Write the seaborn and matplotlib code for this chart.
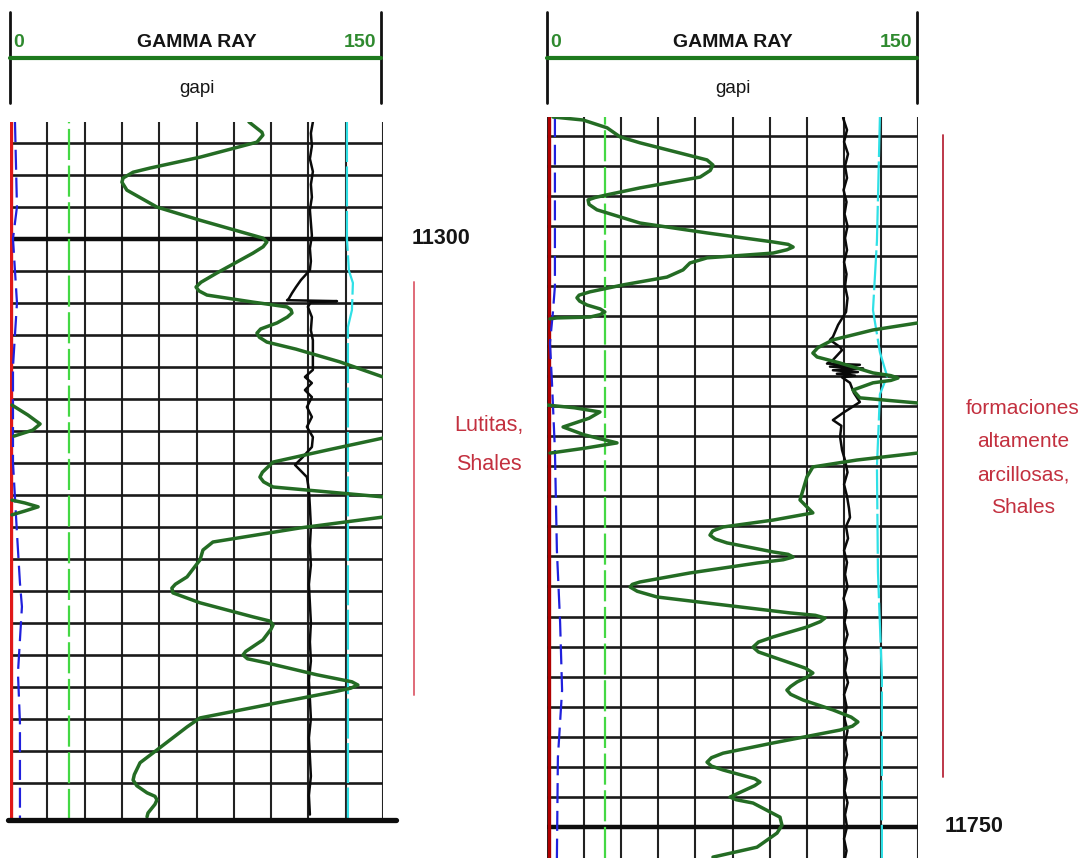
import pandas as pd
import seaborn as sns
import matplotlib.pyplot as plt

# ---------------- left log : 11263 - 11482 ft ----------------
left_top, left_bottom = 11263.5, 11481.7
left_grid = list(range(11270, 11471, 10))
left_mark = 11300

# gamma ray, split where the trace leaves the 0-150 track (wrap-around pieces)
gr_left_depth = [
    [11263.5, 11266.7, 11267.6, 11269.8, 11274.5, 11277.9, 11279.2, 11281.0, 11282.3, 11284.8,
     11290.1, 11294.2, 11299.8, 11301.0, 11302.5, 11304.5, 11310.7, 11313.6, 11315.1, 11316.3,
     11317.6, 11319.8, 11321.3, 11322.2, 11323.2, 11324.5, 11326.3, 11328.2, 11329.5, 11330.8,
     11332.3, 11334.5, 11338.5, 11343.2],
    [11352.0, 11355.1, 11357.9, 11359.8, 11361.7],
    [11362.3, 11366.0, 11369.8, 11373.0, 11374.5, 11376.0, 11377.6, 11380.7],
    [11381.7, 11382.6, 11383.8, 11385.1, 11386.3],
    [11387.0, 11390.4, 11394.8, 11397.3, 11400.4, 11405.7, 11408.0, 11409.2, 11410.7, 11413.8,
     11418.2, 11419.5, 11420.7, 11422.0, 11425.4, 11429.0, 11430.1, 11431.3, 11432.6, 11436.3,
     11438.5, 11439.5, 11440.5, 11441.7, 11445.7, 11449.8, 11452.6, 11459.8, 11463.8, 11467.5,
     11469.2, 11471.0, 11473.2, 11474.3, 11475.4, 11476.8, 11479.5, 11480.7],
]
gr_left_value = [
    [96.1, 101.3, 101.7, 99.3, 76.4, 56.3, 49.5, 45.5, 45.0, 47.0,
     59.1, 76.4, 101.7, 103.3, 101.8, 97.7, 83.2, 76.8, 74.8, 76.0,
     79.2, 97.7, 111.4, 113.0, 113.4, 111.5, 107.4, 100.8, 99.3, 100.3,
     103.3, 115.0, 132.7, 150.0],
    [0.8, 7.2, 12.1, 9.2, 1.6],
    [150.0, 127.9, 105.8, 101.5, 100.5, 102.0, 105.8, 150.0],
    [0.8, 6.0, 11.3, 6.0, 0.8],
    [150.0, 116.6, 81.6, 77.6, 76.4, 71.2, 66.5, 65.1, 65.5, 76.4,
     97.7, 104.5, 105.8, 105.0, 101.7, 94.8, 93.7, 95.5, 103.3, 123.4,
     137.5, 139.9, 137.0, 129.9, 103.3, 76.4, 71.2, 59.1, 52.3, 50.0,
     49.5, 51.0, 55.1, 58.3, 59.1, 58.3, 55.5, 55.1],
]

black_left_depth = [11263.5, 11267, 11271, 11275, 11279, 11283, 11287, 11291, 11295, 11299,
                    11303, 11307, 11309.8, 11312.9, 11315.1, 11317.0, 11318.9, 11319.2, 11319.5, 11319.8,
                    11321.3, 11324.5, 11328.6, 11331.7, 11334.8, 11341.0, 11343.2, 11345.1, 11347.3, 11349.5,
                    11352.6, 11355.7, 11358.8, 11362.0, 11365.1, 11368.2, 11370.7, 11374.5, 11378.5, 11383.8,
                    11390, 11396, 11402, 11408, 11414, 11420, 11426, 11432, 11438, 11444,
                    11450, 11456, 11462, 11468, 11474, 11480]
black_left_value = [121.8, 121.0, 121.4, 120.6, 121.8, 121.0, 121.4, 120.6, 121.0, 121.4,
                    120.6, 121.0, 120.6, 117.0, 115.0, 113.4, 112.0, 111.4, 131.5, 121.0,
                    119.8, 121.4, 121.0, 121.8, 121.8, 121.8, 118.6, 121.4, 118.6, 121.4,
                    119.4, 121.4, 119.4, 121.8, 121.4, 117.8, 114.6, 119.4, 120.2, 120.6,
                    121.0, 120.6, 121.0, 120.2, 120.6, 121.0, 120.6, 121.0, 120.2, 120.6,
                    121.0, 120.2, 120.6, 121.0, 120.2, 120.6]

cyan_left_depth = [11263.5, 11300, 11310, 11313.8, 11322.3, 11327.6, 11400, 11481.7]
cyan_left_value = [135.5, 135.5, 136.3, 137.9, 137.5, 135.9, 135.9, 135.9]

blue_left_depth = [11263.5, 11290, 11300, 11320, 11340, 11370, 11392, 11407.6, 11415, 11435.7, 11451.3, 11481.7]
blue_left_value = [2.0, 2.8, 1.2, 2.8, 1.2, 1.2, 2.8, 4.0, 4.8, 3.2, 4.0, 4.0]

green_left = 23.6
red_left = 0.6

# ---------------- right log : 11514 - 11760 ft ----------------
right_top, right_bottom = 11513.7, 11760.4
right_grid = list(range(11520, 11751, 10))
right_mark = 11750

gr_right_depth = [
    [11513.7, 11514.7, 11517.3, 11520.3, 11522.3, 11525.7, 11528.0, 11529.7, 11531.5, 11533.7,
     11537.3, 11539.6, 11540.5, 11541.3, 11542.8, 11544.6, 11549.0, 11552.3, 11555.3, 11556.1,
     11557.0, 11557.9, 11559.0, 11560.6, 11562.3, 11564.6, 11567.0, 11569.6, 11571.9, 11573.0,
     11573.9, 11575.0, 11576.3, 11577.6, 11578.6, 11579.5, 11580.3, 11580.6, 11580.9],
    [11582.3, 11584.6, 11587.9, 11590.5, 11592.3, 11593.6, 11595.6, 11598.9, 11599.8, 11600.6,
     11601.4, 11602.2, 11604.6, 11607.2, 11608.9],
    [11609.6, 11610.5, 11611.9, 11614.0, 11616.9, 11619.5, 11622.2, 11624.0, 11625.6],
    [11625.6, 11627.9, 11630.2, 11633.5, 11637.9, 11641.2, 11645.5, 11647.9, 11650.2, 11651.5,
     11652.9, 11654.2, 11655.5, 11658.5, 11659.3, 11660.2, 11661.1, 11662.2, 11665.5, 11668.5,
     11669.3, 11670.2, 11671.6, 11673.5, 11675.5, 11678.8, 11679.6, 11680.5, 11681.7, 11683.5,
     11686.8, 11688.5, 11690.2, 11691.8, 11693.5, 11697.2, 11698.8, 11700.2, 11701.8, 11703.3,
     11704.5, 11705.9, 11707.8, 11711.1, 11713.5, 11715.1, 11716.5, 11717.8, 11722.1, 11725.5,
     11727.0, 11728.5, 11729.8, 11731.1, 11734.0, 11735.1, 11736.3, 11740.1, 11741.0, 11742.1,
     11746.8, 11749.5, 11752.1, 11756.8, 11760.1],
]
gr_right_value = [
    [2.4, 14.6, 24.3, 29.5, 37.6, 53.8, 64.7, 67.1, 66.0, 61.9,
     37.6, 24.3, 19.5, 16.6, 17.0, 20.2, 37.6, 64.7, 91.4, 97.5,
     99.5, 97.0, 91.4, 64.7, 57.8, 55.0, 48.5, 30.7, 17.4, 13.0,
     12.1, 13.2, 16.2, 21.5, 23.4, 21.5, 17.4, 4.0, 1.2],
    [149.6, 131.8, 115.6, 109.5, 107.5, 109.2, 118.5, 131.8, 139.0, 141.9,
     139.0, 131.8, 123.7, 126.5, 149.6],
    [0.0, 11.0, 21.4, 17.0, 6.5, 15.0, 28.3, 15.0, 1.2],
    [149.6, 125.3, 107.5, 105.1, 103.5, 102.3, 107.5, 91.4, 71.2, 67.0,
     65.9, 68.0, 72.8, 91.4, 97.5, 99.5, 95.5, 84.9, 57.8, 37.6,
     34.5, 33.6, 36.5, 44.5, 64.7, 98.2, 108.5, 112.4, 110.5, 105.1,
     91.4, 85.5, 83.3, 85.5, 91.4, 104.5, 107.5, 105.0, 101.1, 98.5,
     97.0, 98.5, 103.5, 115.6, 123.0, 125.7, 123.5, 118.5, 91.4, 71.2,
     66.5, 64.7, 66.5, 71.2, 84.0, 86.1, 84.0, 74.0, 76.5, 83.3,
     94.2, 95.0, 93.0, 84.9, 67.1],
]

black_right_depth = [11514, 11518, 11522, 11526, 11530, 11534, 11538, 11542, 11546, 11550,
                     11554, 11558, 11562, 11566, 11570, 11574, 11578.6, 11582.9, 11586.9, 11587.9,
                     11590.3, 11591.3, 11594.6, 11595.8, 11596.2, 11596.8, 11597.4, 11598.0, 11598.6, 11599.2,
                     11599.8, 11600.4, 11602.2, 11605.6, 11608.6, 11612.2, 11614.6, 11616.5, 11620.2, 11624.6,
                     11628, 11632, 11636, 11640, 11644, 11647, 11650, 11654, 11658, 11662,
                     11666, 11670, 11674, 11678, 11682, 11686, 11690, 11694, 11698, 11702,
                     11706, 11710, 11714, 11718, 11722, 11726, 11730, 11734, 11738, 11742,
                     11746, 11750, 11754, 11758, 11760.4]
black_right_value = [119.7, 121.3, 120.1, 121.7, 120.5, 121.3, 119.9, 121.1, 120.3, 121.5,
                     120.5, 121.3, 120.1, 121.1, 120.5, 121.5, 120.9, 117.7, 115.6, 114.4,
                     118.5, 119.3, 115.6, 113.2, 126.5, 114.4, 127.8, 115.6, 125.7, 117.2,
                     124.5, 119.3, 122.5, 124.1, 126.5, 119.7, 115.6, 119.0, 118.5, 119.3,
                     120.5, 121.5, 120.1, 121.3, 122.1, 122.5, 120.9, 121.7, 120.1, 121.3,
                     120.5, 121.5, 119.9, 121.1, 120.3, 121.5, 120.1, 121.3, 120.5, 121.7,
                     120.1, 121.1, 120.3, 121.5, 120.5, 121.3, 120.1, 121.1, 120.3, 121.5,
                     120.5, 121.3, 120.1, 121.1, 120.5]

cyan_right_depth = [11513.7, 11555, 11578, 11592, 11600, 11606, 11630, 11665, 11700, 11760.4]
cyan_right_value = [134.6, 133.4, 131.8, 134.6, 137.5, 134.6, 133.4, 133.8, 135.4, 135.4]

blue_right_depth = [11513.7, 11570, 11578.6, 11588.9, 11602, 11624.6, 11658, 11682, 11704.5, 11727, 11760.4]
blue_right_value = [3.2, 3.2, 2.4, 1.2, 2.0, 3.2, 4.0, 5.3, 6.1, 4.4, 4.0]

green_right = 23.4
red_right = 0.8

# interpretation marks
shale_left = (11313.5, 11442.6)
shale_right = (11519.7, 11733.4)
shale_left_text = "Lutitas,\nShales"
shale_right_text = "formaciones\naltamente\narcillosas,\nShales"

GR_GREEN = "#246c24"
TEXT_RED = "#c3303f"

sns.set_theme(style="white")
plt.rcParams["font.family"] = ["Liberation Sans", "DejaVu Sans"]

fig = plt.figure(figsize=(10.83, 8.58), dpi=100)


def px_box(x0, y0, x1, y1):
    return [x0 / 1083, 1 - y1 / 858, (x1 - x0) / 1083, (y1 - y0) / 858]


def header(ax):
    ax.set_xlim(0, 150)
    ax.set_ylim(0, 1)
    ax.axis("off")
    ax.axvline(0, color="#111111", lw=2.0, clip_on=False)
    ax.axvline(150, color="#111111", lw=2.0, clip_on=False)
    ax.axhline(0.495, color="#1e7a1e", lw=3.0, clip_on=False)
    ax.text(1.2, 0.615, "0", color="#2f8a2f", fontsize=14, fontweight="bold", ha="left", va="baseline")
    ax.text(148, 0.615, "150", color="#2f8a2f", fontsize=14, fontweight="bold", ha="right", va="baseline")
    ax.text(75.5, 0.615, "GAMMA RAY", color="#151515", fontsize=14, fontweight="bold", ha="center",
            va="baseline")
    ax.text(75.5, 0.11, "gapi", color="#151515", fontsize=13.5, ha="center", va="baseline")


def track(ax, top, bottom, grid, mark, red_x, red_c, blue_d, blue_v, green_x,
          cyan_d, cyan_v, black_d, black_v, gr_d, gr_v):
    ax.set_xlim(0, 150)
    ax.set_ylim(bottom, top)
    ax.set_xticks(range(0, 151, 15))
    ax.set_yticks(grid)
    ax.xaxis.grid(True, color="#222222", lw=1.5)
    ax.yaxis.grid(True, color="#1a1a1a", lw=1.9)
    ax.tick_params(length=0, labelbottom=False, labelleft=False)
    for sp in ax.spines.values():
        sp.set_visible(False)
    ax.axhline(mark, color="#0d0d0d", lw=3.2, zorder=1)

    ax.axvline(red_x, color=red_c, lw=2.4)
    sns.lineplot(x=blue_v, y=blue_d, ax=ax, sort=False, orient="y", estimator=None,
                 color="#2020dd", lw=1.6, linestyle=(0, (9, 3.5)))
    ax.axvline(green_x, color="#44d844", lw=1.6, linestyle=(0, (14, 2.5)))
    sns.lineplot(x=cyan_v, y=cyan_d, ax=ax, sort=False, orient="y", estimator=None,
                 color="#2fe0e6", lw=1.6, linestyle=(0, (18, 2)))
    sns.lineplot(x=black_v, y=black_d, ax=ax, sort=False, orient="y", estimator=None,
                 color="#0a0a0a", lw=1.8)
    gr = pd.concat([pd.DataFrame({"depth": d, "gr": v, "seg": i})
                    for i, (d, v) in enumerate(zip(gr_d, gr_v))], ignore_index=True)
    sns.lineplot(data=gr, x="gr", y="depth", units="seg", ax=ax, sort=False, orient="y",
                 estimator=None, color=GR_GREEN, lw=2.5, solid_joinstyle="round",
                 solid_capstyle="round")
    ax.set(xlabel="", ylabel="")


ax_hl = fig.add_axes(px_box(10, 12, 381, 103))
ax_l = fig.add_axes(px_box(10, 122, 383, 820))
ax_hr = fig.add_axes(px_box(547, 12, 917, 103))
ax_r = fig.add_axes(px_box(547, 117, 918, 858))

header(ax_hl)
header(ax_hr)

track(ax_l, left_top, left_bottom, left_grid, left_mark, red_left, "#e01818",
      blue_left_depth, blue_left_value, green_left, cyan_left_depth, cyan_left_value,
      black_left_depth, black_left_value, gr_left_depth, gr_left_value)
track(ax_r, right_top, right_bottom, right_grid, right_mark, red_right, "#b00000",
      blue_right_depth, blue_right_value, green_right, cyan_right_depth, cyan_right_value,
      black_right_depth, black_right_value, gr_right_depth, gr_right_value)

# thick base line of the left log, running a little past the track
ax_l.axhline(left_bottom, xmin=-0.005, xmax=1.035, color="#0d0d0d", lw=3.8, clip_on=False)

# depth labels
ax_l.text(161.6, left_mark, str(left_mark), fontsize=15.5, fontweight="bold", color="#151515",
          ha="left", va="center", clip_on=False)
ax_r.text(160.9, right_mark, str(right_mark), fontsize=15.5, fontweight="bold", color="#151515",
          ha="left", va="center", clip_on=False)

# shale intervals
ax_l.plot([162.4, 162.4], shale_left, color="#e06a78", lw=1.4, clip_on=False)
ax_r.plot([160.1, 160.1], shale_right, color="#b8283a", lw=1.3, clip_on=False)
ax_l.text(192.6, 11364.5, shale_left_text, color=TEXT_RED, fontsize=15.5, ha="center", va="center",
          linespacing=2.15, clip_on=False)
ax_r.text(192.4, 11627.2, shale_right_text, color=TEXT_RED, fontsize=15, ha="center", va="center",
          linespacing=1.95, clip_on=False)

fig.savefig("out.png", dpi=100, facecolor="white")
